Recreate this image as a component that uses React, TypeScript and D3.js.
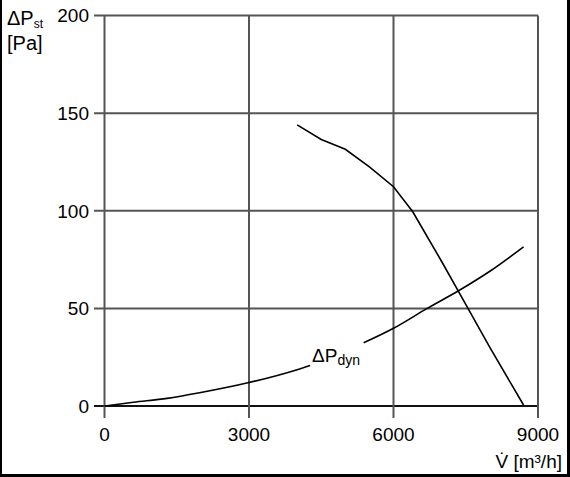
import React from "react";
import * as d3 from "d3";

const xTicks = [0, 3000, 6000, 9000];
const yTicks = [0, 50, 100, 150, 200];

const staticV = [4000, 4500, 5000, 5500, 6000, 6400, 7000, 7500, 8000, 8700];
const staticP = [144, 136.5, 131.5, 122.5, 112.3, 99.5, 74, 52, 30, 0.5];

const dynV = [0, 600, 1300, 2000, 3000, 4000, 4300, 5000, 6000, 6700, 7350, 8000, 8700];
const dynP = [0, 1.9, 3.9, 6.9, 12, 18.6, 21, 27.8, 39.8, 50, 59, 69, 81.5];

const W = 570;
const H = 477;
const FONT = "Liberation Sans, Arial, sans-serif";

export default function App() {
  const x = d3.scaleLinear().domain([0, 9000]).range([104.5, 538]);
  const y = d3.scaleLinear().domain([0, 200]).range([406, 15.5]);

  const lineLin = d3
    .line<[number, number]>()
    .x((d) => x(d[0]))
    .y((d) => y(d[1]));
  const line = d3
    .line<[number, number]>()
    .x((d) => x(d[0]))
    .y((d) => y(d[1]))
    .curve(d3.curveMonotoneX);

  const stat: [number, number][] = staticV.map((v, i) => [v, staticP[i]]);
  const dyn: [number, number][] = dynV.map((v, i) => [v, dynP[i]]);

  const gapStart = 4270;
  const gapEnd = 5380;
  const interp = d3.scaleLinear().domain(dynV).range(dynP);
  const dyn1 = dyn.filter((d) => d[0] < gapStart);
  const dyn2 = dyn.filter((d) => d[0] > gapEnd);
  dyn1.push([gapStart, interp(gapStart)]);
  dyn2.unshift([gapEnd, interp(gapEnd)]);

  return (
    <svg
      width={W}
      height={H}
      style={{ position: "absolute", left: 0, top: 0, background: "#fff" }}
      fontFamily={FONT}
    >
      <rect x={0} y={0} width={W} height={H} fill="#fff" />
      <line x1={1} y1={0} x2={1} y2={H} stroke="#000" strokeWidth={2} />
      <line x1={0} y1={475.5} x2={W} y2={475.5} stroke="#000" strokeWidth={3} />
      <line x1={568.5} y1={0} x2={568.5} y2={H} stroke="#000" strokeWidth={3} />

      {yTicks.map((t) => (
        <line
          key={"hy" + t}
          x1={94}
          x2={x(9000)}
          y1={y(t)}
          y2={y(t)}
          stroke={t === 0 ? "#111" : "#555"}
          strokeWidth={2}
        />
      ))}
      {xTicks.map((t) => (
        <line
          key={"vx" + t}
          x1={x(t)}
          x2={x(t)}
          y1={y(200)}
          y2={418}
          stroke="#555"
          strokeWidth={2}
        />
      ))}

      {yTicks.map((t) => (
        <text
          key={"ty" + t}
          x={89}
          y={y(t)}
          dy="0.36em"
          textAnchor="end"
          fontSize={19}
          fill="#000"
        >
          {t}
        </text>
      ))}
      {xTicks.map((t) => (
        <text
          key={"tx" + t}
          x={x(t)}
          y={441}
          textAnchor="middle"
          fontSize={19}
          fill="#000"
        >
          {t}
        </text>
      ))}

      <text x={7} y={25} fontSize={20} fill="#000">
        ΔP<tspan fontSize={12} dy={3}>st</tspan>
      </text>
      <text x={7} y={50} fontSize={20} fill="#000">
        [Pa]
      </text>
      <text x={562} y={468} fontSize={19} fill="#000" textAnchor="end">
        V̇ [m³/h]
      </text>

      <path d={lineLin(stat) || ""} fill="none" stroke="#000" strokeWidth={1.6} />
      <path d={line(dyn1) || ""} fill="none" stroke="#000" strokeWidth={1.6} />
      <path d={line(dyn2) || ""} fill="none" stroke="#000" strokeWidth={1.6} />

      <text x={312} y={362} fontSize={19} fill="#000">
        ΔP<tspan fontSize={14} dy={3}>dyn</tspan>
      </text>
    </svg>
  );
}
